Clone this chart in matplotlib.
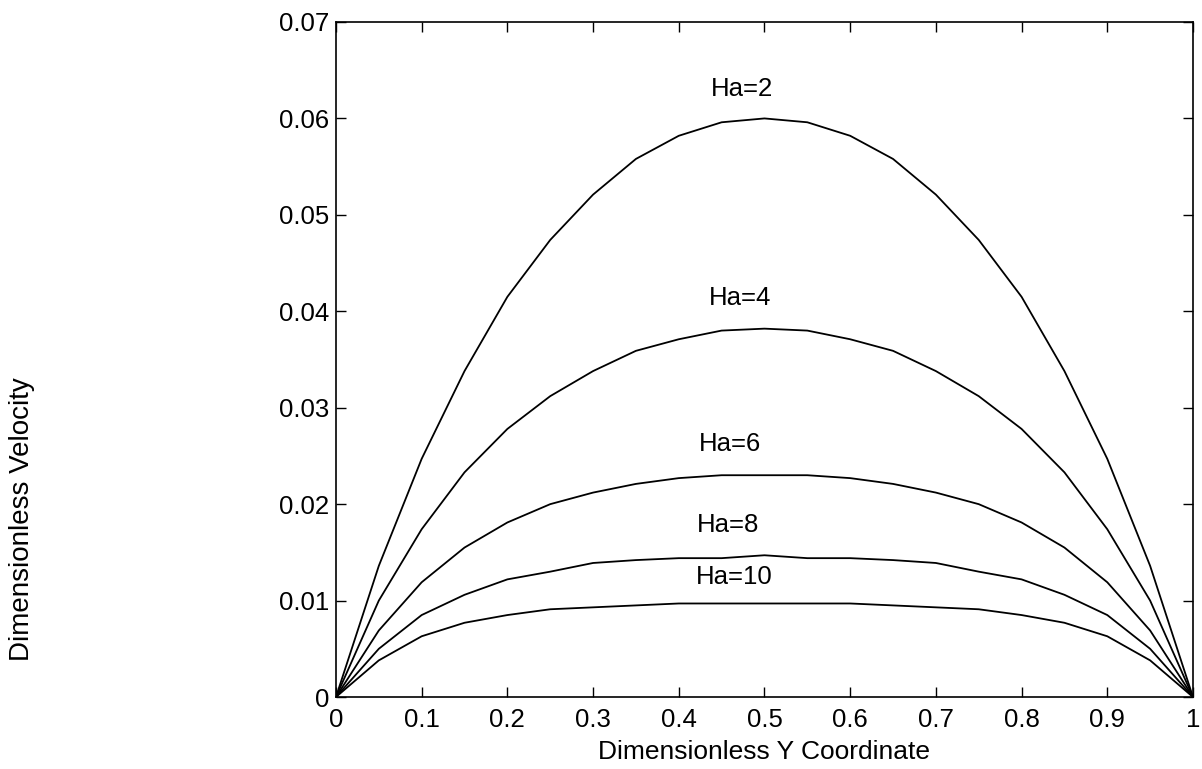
import matplotlib
matplotlib.use("Agg")
import matplotlib.pyplot as plt

plt.rcParams['font.family'] = ['Liberation Sans', 'DejaVu Sans']

# dimensionless y coordinate across the channel
y_coord = [0.0, 0.05, 0.1, 0.15, 0.2, 0.25, 0.3, 0.35, 0.4, 0.45, 0.5,
           0.55, 0.6, 0.65, 0.7, 0.75, 0.8, 0.85, 0.9, 0.95, 1.0]

# velocity profiles for each Hartmann number
u_ha2 = [0, 0.0136, 0.0247, 0.0338, 0.0415, 0.0474, 0.0521, 0.0558, 0.0582, 0.0596, 0.0600,
         0.0596, 0.0582, 0.0558, 0.0521, 0.0474, 0.0415, 0.0338, 0.0247, 0.0136, 0]
u_ha4 = [0, 0.0100, 0.0174, 0.0233, 0.0278, 0.0312, 0.0338, 0.0359, 0.0371, 0.0380, 0.0382,
         0.0380, 0.0371, 0.0359, 0.0338, 0.0312, 0.0278, 0.0233, 0.0174, 0.0100, 0]
u_ha6 = [0, 0.0069, 0.0119, 0.0155, 0.0181, 0.0200, 0.0212, 0.0221, 0.0227, 0.0230, 0.0230,
         0.0230, 0.0227, 0.0221, 0.0212, 0.0200, 0.0181, 0.0155, 0.0119, 0.0069, 0]
u_ha8 = [0, 0.0050, 0.0085, 0.0106, 0.0122, 0.0130, 0.0139, 0.0142, 0.0144, 0.0144, 0.0147,
         0.0144, 0.0144, 0.0142, 0.0139, 0.0130, 0.0122, 0.0106, 0.0085, 0.0050, 0]
u_ha10 = [0, 0.0038, 0.0063, 0.0077, 0.0085, 0.0091, 0.0093, 0.0095, 0.0097, 0.0097, 0.0097,
          0.0097, 0.0097, 0.0095, 0.0093, 0.0091, 0.0085, 0.0077, 0.0063, 0.0038, 0]

labels = ['Ha=2', 'Ha=4', 'Ha=6', 'Ha=8', 'Ha=10']
label_x = [0.438, 0.435, 0.424, 0.421, 0.420]
label_y = [0.0630, 0.0414, 0.0262, 0.0178, 0.0124]

fig = plt.figure(figsize=(12.02, 7.69), dpi=100)
ax = fig.add_axes([0.2795, 0.0936, 0.7130, 0.8778])

for u in [u_ha2, u_ha4, u_ha6, u_ha8, u_ha10]:
    ax.plot(y_coord, u, color='black', linewidth=1.3)

for lab, lx, ly in zip(labels, label_x, label_y):
    ax.text(lx, ly, lab, ha='left', va='center', fontsize=18.5)

ax.set_xlim(0, 1)
ax.set_ylim(0, 0.07)
ax.set_xticks([0, 0.1, 0.2, 0.3, 0.4, 0.5, 0.6, 0.7, 0.8, 0.9, 1])
ax.set_xticklabels(['0', '0.1', '0.2', '0.3', '0.4', '0.5', '0.6', '0.7', '0.8', '0.9', '1'])
ax.set_yticks([0, 0.01, 0.02, 0.03, 0.04, 0.05, 0.06, 0.07])
ax.set_yticklabels(['0', '0.01', '0.02', '0.03', '0.04', '0.05', '0.06', '0.07'])
ax.tick_params(direction='in', length=7, width=1, top=True, right=True, labelsize=18.5)
ax.tick_params(axis='x', pad=8)
ax.tick_params(axis='y', pad=5)
for s in ax.spines.values():
    s.set_linewidth(1.2)

ax.set_xlabel('Dimensionless Y Coordinate', fontsize=19, labelpad=6)
fig.text(22 / 1202, 1 - 519 / 769, 'Dimensionless Velocity', rotation=90,
         ha='center', va='center', fontsize=20)

fig.savefig('out.png', dpi=100)
